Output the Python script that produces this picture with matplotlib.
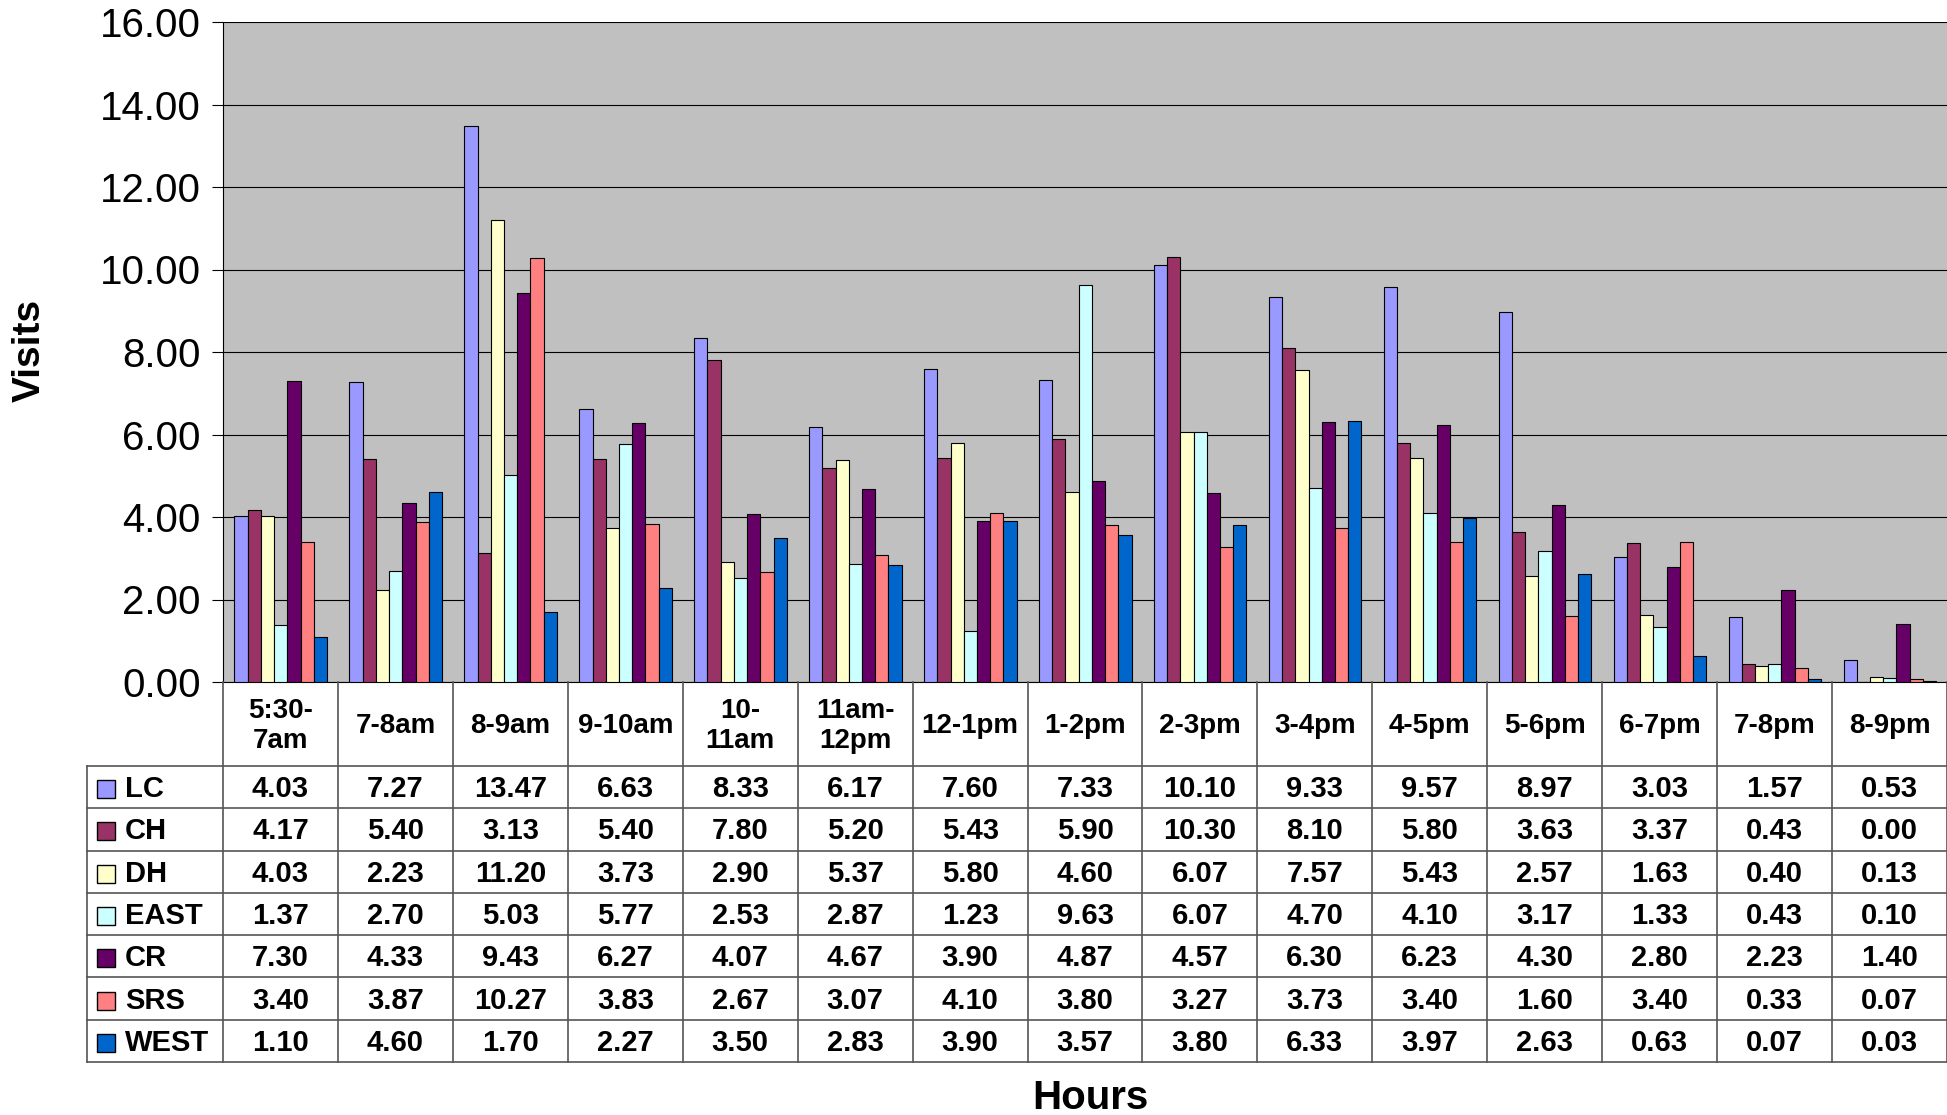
import matplotlib
matplotlib.use("Agg")
import matplotlib.pyplot as plt
from matplotlib.patches import Rectangle
from matplotlib.lines import Line2D
import numpy as np

plt.rcParams['font.family'] = ['Liberation Sans', 'DejaVu Sans']

hours = ["5:30-\n7am", "7-8am", "8-9am", "9-10am", "10-\n11am", "11am-\n12pm", "12-1pm",
         "1-2pm", "2-3pm", "3-4pm", "4-5pm", "5-6pm", "6-7pm", "7-8pm", "8-9pm"]
series = ["LC", "CH", "DH", "EAST", "CR", "SRS", "WEST"]
LC   = [4.03, 7.27, 13.47, 6.63, 8.33, 6.17, 7.60, 7.33, 10.10, 9.33, 9.57, 8.97, 3.03, 1.57, 0.53]
CH   = [4.17, 5.40, 3.13, 5.40, 7.80, 5.20, 5.43, 5.90, 10.30, 8.10, 5.80, 3.63, 3.37, 0.43, 0.00]
DH   = [4.03, 2.23, 11.20, 3.73, 2.90, 5.37, 5.80, 4.60, 6.07, 7.57, 5.43, 2.57, 1.63, 0.40, 0.13]
EAST = [1.37, 2.70, 5.03, 5.77, 2.53, 2.87, 1.23, 9.63, 6.07, 4.70, 4.10, 3.17, 1.33, 0.43, 0.10]
CR   = [7.30, 4.33, 9.43, 6.27, 4.07, 4.67, 3.90, 4.87, 4.57, 6.30, 6.23, 4.30, 2.80, 2.23, 1.40]
SRS  = [3.40, 3.87, 10.27, 3.83, 2.67, 3.07, 4.10, 3.80, 3.27, 3.73, 3.40, 1.60, 3.40, 0.33, 0.07]
WEST = [1.10, 4.60, 1.70, 2.27, 3.50, 2.83, 3.90, 3.57, 3.80, 6.33, 3.97, 2.63, 0.63, 0.07, 0.03]
data = [LC, CH, DH, EAST, CR, SRS, WEST]
colors = ["#9999FF", "#993366", "#FFFFCC", "#CCFFFF", "#660066", "#FF8080", "#0066CC"]

W, H = 1947, 1115
fig = plt.figure(figsize=(W/100, H/100), dpi=100)
L, R, T, B = 223, 1947, 22, 682
ax = fig.add_axes([L/W, 1-B/H, (R-L)/W, (B-T)/H])
ax.set_facecolor("#C0C0C0")
n = len(hours)
bw = 0.115
x = np.arange(n)
for i, (s, d, c) in enumerate(zip(series, data, colors)):
    ax.bar(x - 0.5 + 0.1 + bw*(i+0.5), d, bw, color=c, edgecolor="black", linewidth=0.8, zorder=3)
ax.set_xlim(-0.5, n-0.5)
ax.set_ylim(0, 16)
ax.set_yticks(np.arange(0, 16.1, 2))
ax.set_yticklabels([f"{v:.2f}" for v in np.arange(0, 16.1, 2)], fontsize=29)
ax.yaxis.grid(True, color="black", linewidth=0.8, zorder=0)
ax.set_xticks([])
ax.tick_params(axis='y', length=8, pad=8)
for sp in ["top", "right"]:
    ax.spines[sp].set_visible(False)

def fx(px): return px / W
def fy(py): return 1 - py / H
fig.text(fx(30), fy(350), "Visits", rotation=90, ha="center", va="center", fontsize=28, fontweight="bold")

cw = (R - L) / n
hdr_top, hdr_bot, tab_bot, lab_left = 682, 766, 1062, 87
rh = (tab_bot - hdr_bot) / len(series)
lc = "#555555"
def line(x0, y0, x1, y1):
    fig.add_artist(Line2D([fx(x0), fx(x1)], [fy(y0), fy(y1)], color=lc, linewidth=1.2))
for j in range(n + 1):
    line(L + j*cw, hdr_top, L + j*cw, tab_bot)
line(lab_left, hdr_bot, lab_left, tab_bot)
line(lab_left, hdr_bot, R, hdr_bot)
for i in range(1, len(series) + 1):
    line(lab_left, hdr_bot + i*rh, R, hdr_bot + i*rh)
for j, h in enumerate(hours):
    fig.text(fx(L + (j+0.5)*cw), fy((hdr_top + hdr_bot)/2 + 2), h, ha="center", va="center",
             fontsize=20, fontweight="bold", linespacing=1.25)
for i, (s, d, c) in enumerate(zip(series, data, colors)):
    yc = hdr_bot + (i + 0.5)*rh + 2
    fig.add_artist(Rectangle((fx(97), fy(yc + 9)), 18/W, 18/H, facecolor=c, edgecolor="black",
                             linewidth=1, transform=fig.transFigure))
    fig.text(fx(125), fy(yc), s, ha="left", va="center", fontsize=21, fontweight="bold")
    for j, v in enumerate(d):
        fig.text(fx(L + (j+0.5)*cw), fy(yc), f"{v:.2f}", ha="center", va="center",
                 fontsize=21, fontweight="bold")
fig.text(fx(1090), fy(1098), "Hours", ha="center", va="center", fontsize=29, fontweight="bold")
fig.savefig("out.png", dpi=100)
